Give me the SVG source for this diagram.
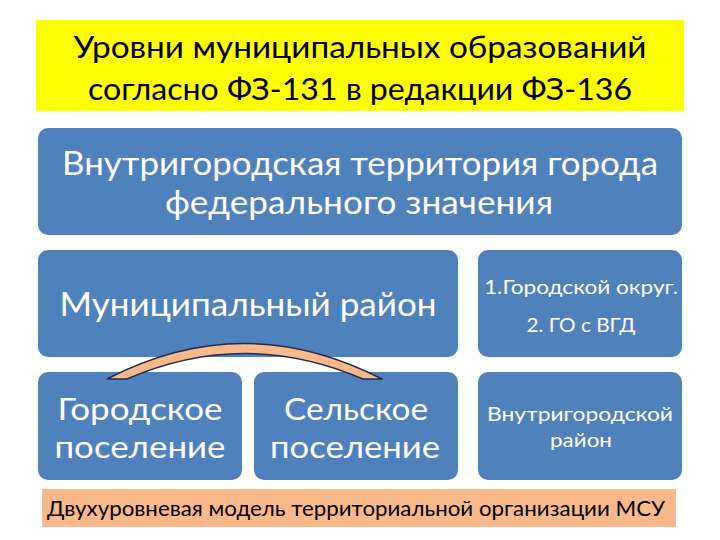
<svg xmlns="http://www.w3.org/2000/svg" width="720" height="540" viewBox="0 0 720 540">
<style>
.box{fill:#4F81BD;}
.wt{fill:#FFFFFF;font-family:Lato,"Open Sans","Liberation Sans",sans-serif;font-weight:400;text-anchor:middle;}
.bt{fill:#000000;font-family:Lato,"Open Sans","Liberation Sans",sans-serif;font-weight:400;text-anchor:middle;}
</style>
<rect width="720" height="540" fill="#FFFFFF"/>
<g id="title">
<rect x="36" y="20" width="648" height="91" fill="#FFFF00"/>
<text class="bt" x="360" y="58" font-size="31" textLength="573" lengthAdjust="spacingAndGlyphs">Уровни муниципальных образований</text>
<text class="bt" x="360" y="100" font-size="31" textLength="544" lengthAdjust="spacingAndGlyphs">согласно ФЗ-131 в редакции ФЗ-136</text>
</g>
<g id="top">
<rect class="box" x="38" y="128" width="644" height="107" rx="10"/>
<text class="wt" x="360" y="175" font-size="32" textLength="596" lengthAdjust="spacingAndGlyphs">Внутригородская территория города</text>
<text class="wt" x="359" y="214" font-size="32" textLength="388" lengthAdjust="spacingAndGlyphs">федерального значения</text>
</g>
<g id="munrayon">
<rect class="box" x="38" y="250" width="420" height="107" rx="10"/>
<text class="wt" x="248" y="316" font-size="33" textLength="377" lengthAdjust="spacingAndGlyphs">Муниципальный район</text>
</g>
<g id="gorpos">
<rect class="box" x="38" y="372" width="204" height="108" rx="10"/>
<text class="wt" x="140" y="420" font-size="31" textLength="165" lengthAdjust="spacingAndGlyphs">Городское</text>
<text class="wt" x="140" y="458" font-size="31" textLength="171" lengthAdjust="spacingAndGlyphs">поселение</text>
</g>
<g id="selpos">
<rect class="box" x="254" y="372" width="204" height="108" rx="10"/>
<text class="wt" x="356" y="420" font-size="31" textLength="144" lengthAdjust="spacingAndGlyphs">Сельское</text>
<text class="wt" x="355" y="458" font-size="31" textLength="170" lengthAdjust="spacingAndGlyphs">поселение</text>
</g>
<g id="gorokrug">
<rect class="box" x="478" y="250" width="204" height="107" rx="10"/>
<text class="wt" x="581" y="294" font-size="19" textLength="194" lengthAdjust="spacingAndGlyphs">1.Городской округ.</text>
<text class="wt" x="581" y="332" font-size="19" textLength="109" lengthAdjust="spacingAndGlyphs">2. ГО с ВГД</text>
</g>
<g id="vnrayon">
<rect class="box" x="478" y="372" width="204" height="108" rx="10"/>
<text class="wt" x="580" y="421" font-size="20" textLength="186" lengthAdjust="spacingAndGlyphs">Внутригородской</text>
<text class="wt" x="581" y="447" font-size="20" textLength="62" lengthAdjust="spacingAndGlyphs">район</text>
</g>
<g id="connectors">
<path d="M107,379 Q244,308 382,379 L363,379 Q245,328 127,379 Z" fill="#F9B98A" stroke="#1F2F4F" stroke-width="1.5" stroke-linejoin="round"/>
</g>
<g id="caption">
<rect x="42" y="489" width="634" height="38" fill="#F9B98A"/>
<text class="bt" x="356" y="516" font-size="21" textLength="618" lengthAdjust="spacingAndGlyphs">Двухуровневая модель территориальной организации МСУ</text>
</g>
</svg>
